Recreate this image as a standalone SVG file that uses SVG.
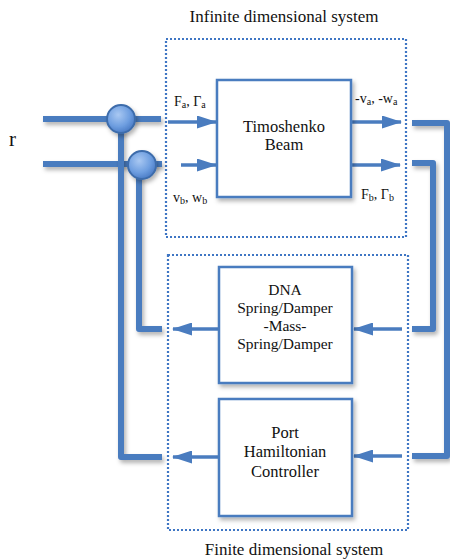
<svg xmlns="http://www.w3.org/2000/svg" width="450" height="559" viewBox="0 0 450 559">
<style>
  .txt { font-family: "Liberation Serif", "Times New Roman", serif; fill: #111; }
  .title { font-size: 17px; text-anchor: middle; }
  .box { fill: #fff; stroke: #4a7cbf; stroke-width: 2.5; filter: url(#sh); }
  .btxt { font-size: 16.5px; text-anchor: middle; }
  .dtxt { font-size: 15.5px; text-anchor: middle; }
  .lbl { font-size: 14px; }
  .sub { font-size: 10px; }
  .frame { fill: none; stroke: #3f76c4; stroke-width: 2.2; stroke-dasharray: 2 2; }
  .thick { fill: none; stroke: #4a7cbf; stroke-width: 6; stroke-linejoin: round; filter: url(#sh); }
  .arr { fill: none; stroke: #4a7cbf; stroke-width: 3.5; marker-end: url(#ah); }
  .sum { fill: url(#cg); stroke: #3d6cab; stroke-width: 2; filter: url(#sh); }
</style>
<defs>
  <filter id="sh" filterUnits="userSpaceOnUse" x="0" y="0" width="450" height="559">
    <feDropShadow dx="2" dy="3" stdDeviation="2" flood-color="#000" flood-opacity="0.3"/>
  </filter>
  <radialGradient id="cg" cx="40%" cy="35%" r="70%">
    <stop offset="0" stop-color="#a9c8f2"/>
    <stop offset="0.6" stop-color="#6e9ee0"/>
    <stop offset="1" stop-color="#4677c2"/>
  </radialGradient>
  <marker id="ah" markerUnits="userSpaceOnUse" markerWidth="20" markerHeight="13" refX="19" refY="6.5" orient="auto">
    <path d="M0,0 L20,6.5 L0,13 z" fill="#4a7cbf"/>
  </marker>
</defs>

<g id="infinite-system">
  <rect class="frame" x="166" y="39" width="240" height="198"/>
  <text class="txt title" x="284" y="22">Infinite dimensional system</text>
</g>
<g id="finite-system">
  <rect class="frame" x="168" y="255" width="240" height="275"/>
  <text class="txt title" x="294" y="555">Finite dimensional system</text>
</g>

<g id="input-r">
  <text class="txt" x="9" y="146" font-size="21">r</text>
</g>

<g id="connectors">
  <path class="thick" d="M43,119 H161"/>
  <path class="thick" d="M43,164 H162"/>
  <path class="thick" d="M162,457 H121 V119"/>
  <path class="thick" d="M162,329 H139 V165"/>
  <path class="thick" d="M412,123 H447 V456 H412"/>
  <path class="thick" d="M412,163 H433 V329 H412"/>
  <line class="arr" x1="168" y1="122" x2="216" y2="122"/>
  <line class="arr" x1="181" y1="165" x2="216" y2="165"/>
  <line class="arr" x1="352" y1="122" x2="401" y2="122"/>
  <line class="arr" x1="352" y1="165" x2="400" y2="165"/>
  <line class="arr" x1="402" y1="329" x2="354" y2="329"/>
  <line class="arr" x1="402" y1="456" x2="354" y2="456"/>
  <line class="arr" x1="219" y1="329" x2="173" y2="329"/>
  <line class="arr" x1="219" y1="457" x2="173" y2="457"/>
</g>

<g id="sum1"><circle class="sum" cx="121" cy="119" r="14"/></g>
<g id="sum2"><circle class="sum" cx="142" cy="165" r="14"/></g>

<g id="timoshenko-beam">
  <rect class="box" x="217" y="80" width="134" height="117"/>
  <text class="txt btxt" x="284" y="132">Timoshenko</text>
  <text class="txt btxt" x="284" y="150">Beam</text>
</g>

<g id="dna">
  <rect class="box" x="219" y="267" width="133" height="116"/>
  <text class="txt dtxt" x="285" y="295">DNA</text>
  <text class="txt dtxt" x="285" y="313">Spring/Damper</text>
  <text class="txt dtxt" x="285" y="331">-Mass-</text>
  <text class="txt dtxt" x="285" y="349">Spring/Damper</text>
</g>

<g id="port-hamiltonian-controller">
  <rect class="box" x="219" y="399" width="133" height="117"/>
  <text class="txt btxt" x="285" y="438">Port</text>
  <text class="txt btxt" x="285" y="457">Hamiltonian</text>
  <text class="txt btxt" x="285" y="477">Controller</text>
</g>

<g id="labels">
  <text class="txt lbl" x="174" y="106">F<tspan class="sub" dy="2">a</tspan><tspan dy="-2">, Γ</tspan><tspan class="sub" dy="2">a</tspan></text>
  <text class="txt lbl" x="173" y="202">v<tspan class="sub" dy="2">b</tspan><tspan dy="-2">, w</tspan><tspan class="sub" dy="2">b</tspan></text>
  <text class="txt lbl" x="355" y="103">-v<tspan class="sub" dy="2">a</tspan><tspan dy="-2">, -w</tspan><tspan class="sub" dy="2">a</tspan></text>
  <text class="txt lbl" x="361" y="199">F<tspan class="sub" dy="2">b</tspan><tspan dy="-2">, Γ</tspan><tspan class="sub" dy="2">b</tspan></text>
</g>
</svg>
